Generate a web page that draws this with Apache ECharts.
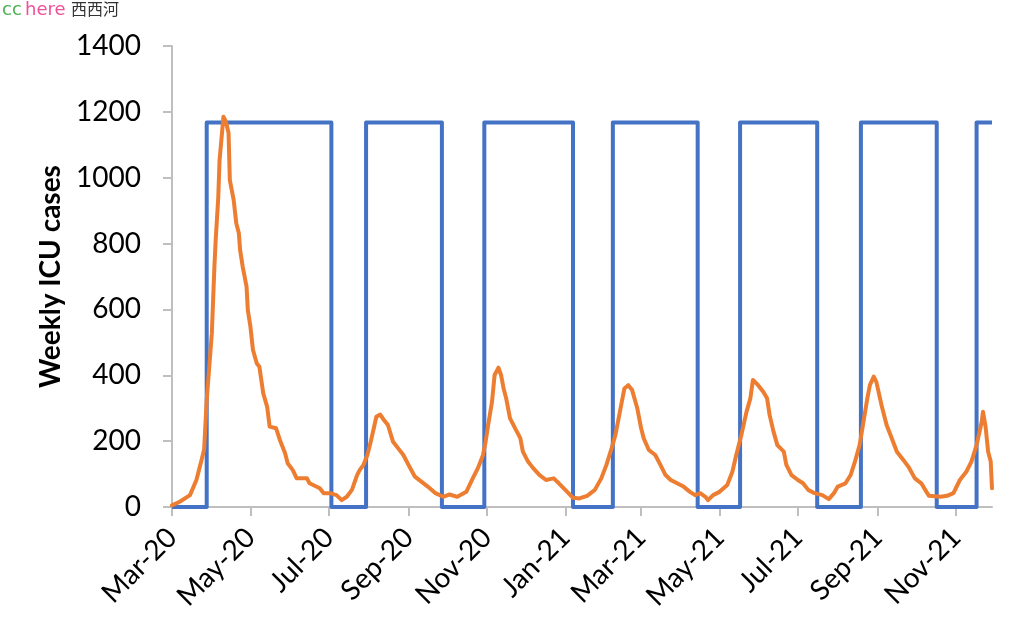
<!DOCTYPE html>
<html><head><meta charset="utf-8">
<script src="https://cdn.jsdelivr.net/npm/echarts@6/dist/echarts.min.js"></script>
<style>html,body{margin:0;padding:0;background:#fff}#c{width:1024px;height:633px}</style>
</head><body><div id="c"></div>
<script>
// Day numbers count from 1 March 2020 (day 0).
const startYear = 2020, startMonth = 2, startDayOfMonth = 1;
const endDay = 638;

const tickDates = [[2020,2,1],[2020,4,1],[2020,6,1],[2020,8,1],[2020,10,1],[2021,0,1],[2021,2,1],[2021,4,1],[2021,6,1],[2021,8,1],[2021,10,1]];
const tickLabels = ['Mar-20','May-20','Jul-20','Sep-20','Nov-20','Jan-21','Mar-21','May-21','Jul-21','Sep-21','Nov-21'];

const yTicks = [0, 200, 400, 600, 800, 1000, 1200, 1400];

// Blue on/off series (step changes)
const blueDays   = [0, 27, 124, 151, 210, 243, 312, 343, 409, 442, 502, 536, 595, 626, 638];
const blueValues = [0, 1168, 0, 1168, 0, 1168, 0, 1168, 0, 1168, 0, 1168, 0, 1168, 1168];

// Orange: weekly ICU cases
const orangeDays = [0,6,14,19,23,25,27,29,31,32,33,34,36,37,39,40,42,44,45,48,50,52,53,55,58,59,61,63,66,68,71,74,76,81,84,88,90,94,97,105,107,115,118,123,128,132,136,140,144,146,149,152,154,157,159,162,164,168,172,176,180,184,189,194,199,205,211,216,222,229,234,238,242,244,246,249,251,254,256,258,260,263,267,271,273,277,281,286,291,297,301,306,312,317,323,329,334,338,342,345,347,350,352,355,358,362,365,367,371,376,380,384,388,393,398,403,407,411,415,417,421,426,432,436,439,443,447,450,452,456,460,463,465,468,471,476,478,482,487,491,495,500,506,511,515,518,524,528,531,535,538,541,543,546,548,552,556,560,564,569,573,578,583,587,589,598,603,608,613,618,622,626,630,631,633,635,637,638];
const orangeValues = [5,16,36,82,143,175,325,426,528,629,730,811,940,1053,1140,1185,1170,1136,993,932,862,832,780,730,669,598,548,477,436,426,345,305,244,239,203,163,133,112,87,87,72,57,42,42,36,21,31,52,97,112,128,158,188,239,274,281,269,249,198,178,158,128,92,77,62,42,31,38,31,46,87,118,158,198,249,320,401,423,401,360,330,269,239,209,168,138,118,97,82,87,72,52,28,26,34,52,87,128,178,219,259,320,360,370,355,300,239,209,173,158,128,97,82,72,62,46,36,42,31,21,36,46,67,107,158,219,289,330,386,370,350,330,279,229,188,168,128,97,82,72,52,42,36,24,42,62,72,97,133,188,259,330,370,396,380,310,249,209,168,143,122,87,72,46,34,31,34,42,82,107,138,188,259,289,244,168,138,57];

function dayToTime(d){ return new Date(startYear, startMonth, startDayOfMonth + d).getTime(); }
const tickTimes = tickDates.map(t => new Date(t[0], t[1], t[2]).getTime());
const blueData = blueDays.map((d,i) => [dayToTime(d), blueValues[i]]);
const orangeData = orangeDays.map((d,i) => [dayToTime(d), orangeValues[i]]);

const chart = echarts.init(document.getElementById('c'), null, {renderer:'canvas'});
const axisColor = '#bfbfbf';
chart.setOption({
  animation: false,
  backgroundColor: '#ffffff',
  grid: {left: 172, right: 32, top: 46, bottom: 126, containLabel: false},
  xAxis: {
    type: 'value',
    min: dayToTime(0), max: dayToTime(endDay),
    splitLine: {show: false},
    axisLine: {show: true, onZero: false, lineStyle: {color: axisColor, width: 2}},
    axisTick: {show: true, customValues: tickTimes, length: 9, lineStyle: {color: axisColor, width: 2}},
    axisLabel: {
      customValues: tickTimes, rotate: 45, margin: 26,
      color: '#000', fontFamily: 'Lato', fontSize: 28,
      formatter: function(v){ const i = tickTimes.indexOf(v); return i >= 0 ? tickLabels[i] : ''; }
    }
  },
  yAxis: {
    type: 'value', min: yTicks[0], max: yTicks[yTicks.length-1], interval: 200,
    name: 'Weekly ICU cases', nameLocation: 'middle', nameGap: 106,
    nameTextStyle: {color: '#000', fontFamily: 'Lato', fontSize: 28, fontWeight: 'bold'},
    splitLine: {show: false},
    axisLine: {show: true, lineStyle: {color: axisColor, width: 2}},
    axisTick: {show: true, length: 9, lineStyle: {color: axisColor, width: 2}},
    axisLabel: {color: '#000', fontFamily: 'Lato', fontSize: 28, margin: 31,
      formatter: function(v){ return String(v); }}
  },
  graphic: [
    {type: 'text', left: 2, top: 1, style: {text: 'cc', fill: '#4caf50', font: '18px "DejaVu Sans"'}},
    {type: 'text', left: 25, top: 1, style: {text: 'here', fill: '#f0509a', font: '18px "DejaVu Sans"'}},
    {type: 'text', left: 71, top: 1, style: {text: '西西河', fill: '#333333', font: '16px "Noto Sans CJK SC"'}}
  ],
  series: [
    {type: 'line', name: 'phase', data: blueData, step: 'end', showSymbol: false,
     lineStyle: {color: '#4472c4', width: 4, join: 'round'}, z: 2},
    {type: 'line', name: 'ICU', data: orangeData, showSymbol: false,
     lineStyle: {color: '#ed7d31', width: 4, join: 'round', cap: 'round'}, z: 3}
  ]
});
</script></body></html>
